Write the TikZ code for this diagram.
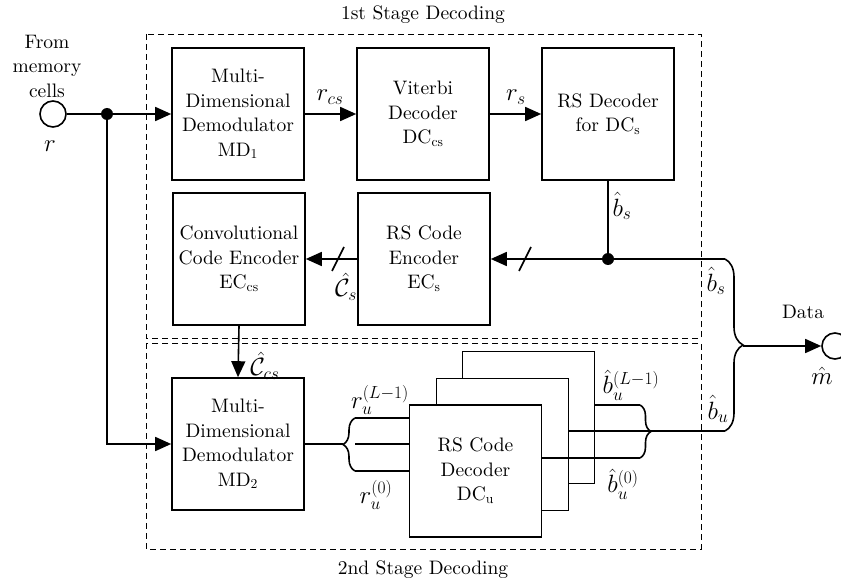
\documentclass[tikz,border=0pt]{standalone}
\usepackage{fix-cm}
\usepackage{fontspec}
\setmainfont{lmroman10-regular.otf}
\usetikzlibrary{arrows.meta,decorations.pathreplacing}
\newcommand\txtfont{\fontsize{19.5}{24.5}\selectfont}
\newcommand\mthfont{\fontsize{25}{30}\selectfont}
\begin{document}
\begin{tikzpicture}[x=1pt,y=-1pt,
  blk/.style={draw,line width=1.6pt,fill=white,minimum width=132pt,minimum height=132pt,align=center,inner sep=0pt,font=\txtfont},
  arr/.style={line width=1.6pt,-{Triangle[length=16pt,width=14pt]}},
  ln/.style={line width=1.6pt},
  stage/.style={draw,line width=0.9pt,dash pattern=on 6pt off 4pt},
  lab/.style={font=\mthfont,inner sep=1pt},
  txt/.style={font=\txtfont,align=center,inner sep=1pt},
  jdot/.style={circle,fill,inner sep=0pt,minimum size=12pt},
  port/.style={circle,draw,line width=1.6pt,fill=white,inner sep=0pt,minimum size=26pt},
  brc/.style={decorate,line width=1.6pt}]
\useasboundingbox (0,0) rectangle (841,583);
% stage boxes
\draw[stage] (146,34) rectangle (701,338);
\draw[stage] (146,343) rectangle (701,549);
\node[txt] (t1) at (423,15) {1st Stage Decoding};
\node[txt] (t2) at (423,570) {2nd Stage Decoding};
% blocks
\node[blk] (md1) at (238,114) {Multi-\\Dimensional\\Demodulator\\MD\textsubscript{1}};
\node[blk] (vit) at (423,114) {Viterbi\\Decoder\\DC\textsubscript{cs}};
\node[blk] (rsd) at (608,114) {RS Decoder\\for DC\textsubscript{s}};
\node[blk] (cce) at (239,259) {Convolutional\\Code Encoder\\EC\textsubscript{cs}};
\node[blk] (rse) at (424,259) {RS Code\\Encoder\\EC\textsubscript{s}};
\node[blk] (md2) at (238,444) {Multi-\\Dimensional\\Demodulator\\MD\textsubscript{2}};
\node[blk] (dc3) at (528.5,417.5) {};
\node[blk] (dc2) at (502.5,444.5) {};
\node[blk] (dc1) at (475.5,471) {RS Code\\Decoder\\DC\textsubscript{u}};
% ports and junctions
\node[port] (in) at (53,114) {};
\node[txt] (from) at (47,66) {From\\memory\\cells};
\node[lab] (lr) at (50,146) {$r$};
\node[jdot] (j1) at (107,114) {};
\node[jdot] (j2) at (608,259) {};
\node[port] (out) at (835,346) {};
\node[txt] (data) at (803,312) {Data};
\node[lab] (lm) at (822,376) {$\hat{m}$};
\coordinate (bt) at (725,259);
\coordinate (bb) at (725,431);
\coordinate (btip) at (743,346);
\coordinate (la) at (355,418);
\coordinate (lb) at (355,444);
\coordinate (lc) at (355,471);
\coordinate (ltip) at (343,444);
\coordinate (ra) at (640,405);
\coordinate (rc) at (640,458);
% connectors
\draw[ln] (in) -- (j1);
\draw[arr] (j1) -- (md1);
\draw[arr] (j1) |- (md2.west);
\draw[arr] (md1) -- (vit);
\draw[arr] (vit) -- (rsd);
\draw[ln] (rsd.south) -- (j2);
\draw[arr] (bt) -- (rse.east);
\draw[arr] (rse.west) -- (cce.east);
\draw[ln] (332,271) -- (344,247);
\draw[ln] (519,271) -- (531,247);
\draw[arr] (cce.south) -- (md2.north);
\draw[ln] (md2.east) -- (ltip);
\draw[brc,decoration={brace,amplitude=12pt}] (lc) -- (la);
\draw[ln] (la) -- (la -| dc1.west);
\draw[ln] (lb) -- (lb -| dc1.west);
\draw[ln] (lc) -- (lc -| dc1.west);
\draw[ln] (ra -| dc3.east) -- (ra);
\draw[ln] (bb -| dc2.east) -- (bb);
\draw[ln] (rc -| dc1.east) -- (rc);
\draw[brc,decoration={brace,amplitude=11pt}] (ra) -- (rc);
\draw[brc,decoration={brace,amplitude=18pt}] (bt) -- (bb);
\draw[arr] (btip) -- (out);
% labels
\node[lab] at (330,97) {$r_{cs}$};
\node[lab] at (516,97) {$r_{s}$};
\node[lab] at (622,206) {$\hat{b}_{s}$};
\node[lab] at (346,287) {$\hat{\mathcal{C}}_{s}$};
\node[lab] at (265,366) {$\hat{\mathcal{C}}_{cs}$};
\node[lab] at (380,400) {$r_{u}^{(L-1)}$};
\node[lab] at (376,495) {$r_{u}^{(0)}$};
\node[lab] at (631,385) {$\hat{b}_{u}^{(L-1)}$};
\node[lab] at (623,484) {$\hat{b}_{u}^{(0)}$};
\node[lab] at (716,281) {$\hat{b}_{s}$};
\node[lab] at (718,409) {$\hat{b}_{u}$};
\end{tikzpicture}
\end{document}
